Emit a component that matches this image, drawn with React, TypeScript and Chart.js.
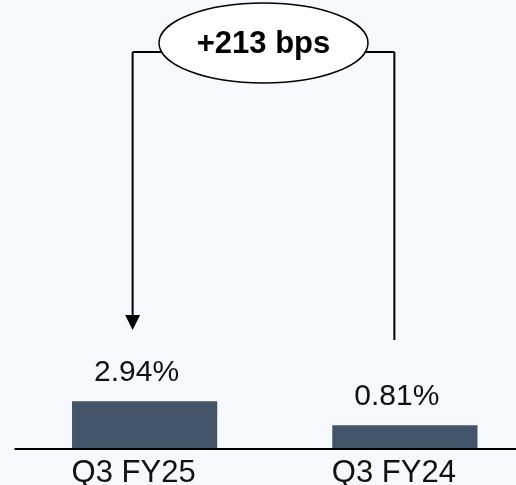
import React, { useEffect, useRef } from "react";
import { Chart, registerables } from "chart.js";

Chart.register(...registerables);

const categories = ["Q3 FY25", "Q3 FY24"];
const values = [2.94, 0.81];
const valueLabels = ["2.94%", "0.81%"];
const axisMin = -1.3;
const axisMax = 38.5;

const bpsChange = Math.round((values[0] - values[1]) * 100);
const bpsLabel = `${bpsChange >= 0 ? "+" : ""}${bpsChange} bps`;

const FONT = "'Liberation Sans', Arial, sans-serif";

const overlayPlugin = {
  id: "overlay",
  afterDatasetsDraw(chart: any) {
    const ctx = chart.ctx as CanvasRenderingContext2D;
    const area = chart.chartArea;
    const xs = chart.scales.x;
    const meta = chart.getDatasetMeta(0);
    ctx.save();

    // axis line
    ctx.strokeStyle = "#000";
    ctx.lineWidth = 2;
    ctx.beginPath();
    ctx.moveTo(area.left, area.bottom);
    ctx.lineTo(area.right, area.bottom);
    ctx.stroke();

    // value labels
    ctx.fillStyle = "#111";
    ctx.textAlign = "center";
    ctx.textBaseline = "alphabetic";
    ctx.font = `30px ${FONT}`;
    meta.data.forEach((bar: any, i: number) => {
      ctx.fillText(valueLabels[i], bar.x - 8, bar.y - 20);
    });

    // category labels
    ctx.font = `31px ${FONT}`;
    categories.forEach((c, i) => {
      ctx.fillText(c, xs.getPixelForValue(i) - 11, area.bottom + 33);
    });

    // bracket annotation
    const b0 = meta.data[0];
    const b1 = meta.data[1];
    const lx = b0.x - 12;
    const rx = b1.x - 10.5;
    const topY = 52;
    const arrowTip = 330;
    const rightEnd = 340;
    ctx.strokeStyle = "#000";
    ctx.lineWidth = 2;
    ctx.beginPath();
    ctx.moveTo(lx, topY);
    ctx.lineTo(rx, topY);
    ctx.moveTo(lx, topY);
    ctx.lineTo(lx, arrowTip - 14);
    ctx.moveTo(rx, topY);
    ctx.lineTo(rx, rightEnd);
    ctx.stroke();
    // arrow head
    ctx.fillStyle = "#000";
    ctx.beginPath();
    ctx.moveTo(lx - 7.5, arrowTip - 15);
    ctx.lineTo(lx + 7.5, arrowTip - 15);
    ctx.lineTo(lx, arrowTip);
    ctx.closePath();
    ctx.fill();

    // ellipse
    const cx = (lx + rx) / 2;
    const cy = 43;
    ctx.beginPath();
    ctx.ellipse(cx, cy, 104.5, 40, 0, 0, Math.PI * 2);
    ctx.fillStyle = "#fff";
    ctx.fill();
    ctx.lineWidth = 1.5;
    ctx.strokeStyle = "#000";
    ctx.stroke();

    ctx.fillStyle = "#000";
    ctx.font = `bold 31px ${FONT}`;
    ctx.textAlign = "center";
    ctx.fillText(bpsLabel, cx, 53);

    ctx.restore();
  },
};

export default function App() {
  const ref = useRef<HTMLCanvasElement | null>(null);

  useEffect(() => {
    if (!ref.current) return;
    const chart = new Chart(ref.current, {
      type: "bar",
      data: {
        labels: categories,
        datasets: [
          {
            data: values,
            backgroundColor: "#44546A",
            borderWidth: 0,
            base: axisMin,
            barPercentage: 0.558,
            categoryPercentage: 1,
          } as any,
        ],
      },
      options: {
        responsive: false,
        animation: false,
        layout: { padding: { left: 14.5, right: 0, top: 0, bottom: 36 } },
        plugins: {
          legend: { display: false },
          tooltip: { enabled: false },
        },
        scales: {
          x: { display: false },
          y: { display: false, min: axisMin, max: axisMax },
        },
      },
      plugins: [overlayPlugin],
    });
    return () => chart.destroy();
  }, []);

  return (
    <div
      style={{
        position: "fixed",
        left: 0,
        top: 0,
        width: 516,
        height: 485,
        overflow: "hidden",
        background: "#F6FAFE",
      }}
    >
      <canvas ref={ref} width={535} height={485} style={{ display: "block" }} />
    </div>
  );
}
